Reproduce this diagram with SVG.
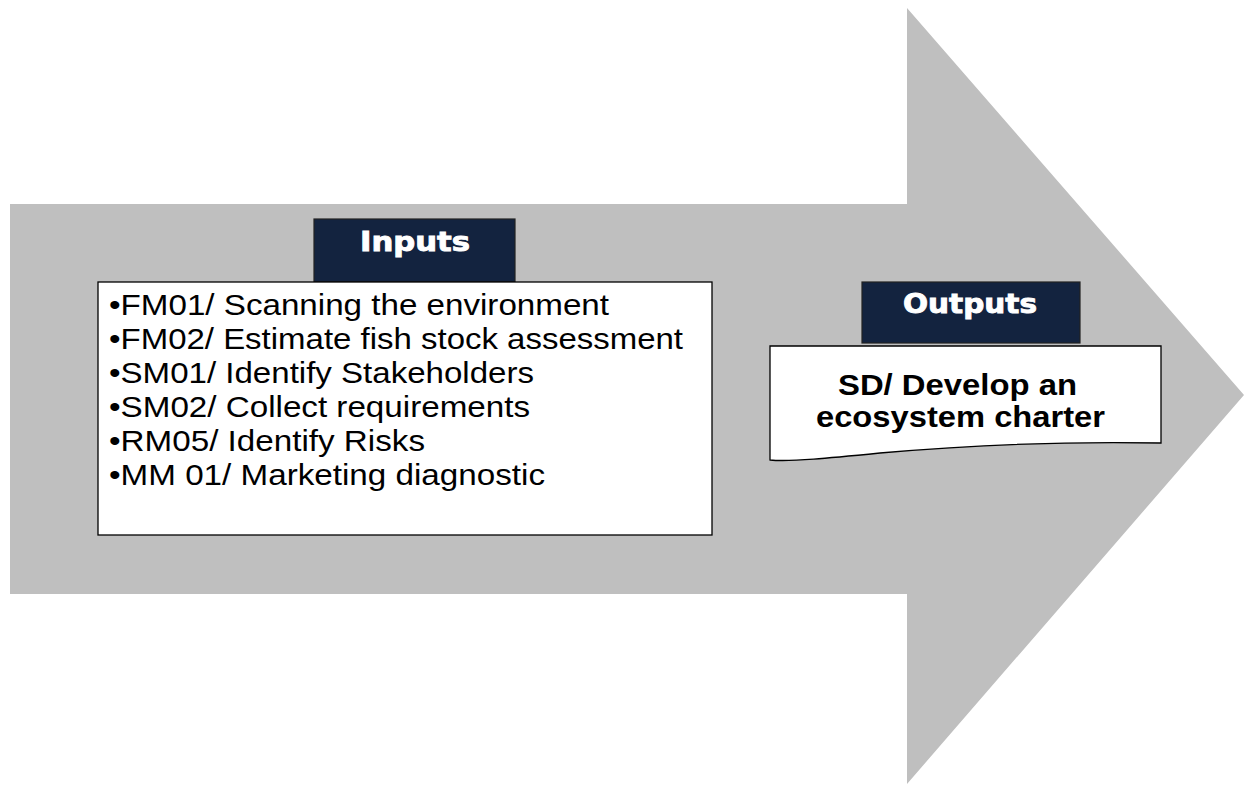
<svg xmlns="http://www.w3.org/2000/svg" width="1244" height="786" viewBox="0 0 1244 786">
<style>
.hdr{fill:#13233f;stroke:#222;stroke-width:1.2}
.box{fill:#fff;stroke:#000;stroke-width:1.3}
.htxt{font-family:"DejaVu Sans",sans-serif;font-weight:bold;font-size:27px;fill:#fff;stroke:#fff;stroke-width:0.9}
.itxt{font-family:"Liberation Sans",Arial,sans-serif;font-size:30px;fill:#000}
.otxt{font-family:"Liberation Sans",Arial,sans-serif;font-weight:bold;font-size:30px;fill:#000}
</style>
<rect width="1244" height="786" fill="#fff"/>
<polygon id="arrow" points="10,204 907,204 907,8 1244,395 907,784 907,594 10,594" fill="#bfbfbf"/>
<g id="inputs">
<rect class="hdr" x="314" y="219" width="201" height="63"/>
<text class="htxt" x="360" y="251" textLength="110" lengthAdjust="spacingAndGlyphs">Inputs</text>
<rect class="box" x="98" y="282" width="614" height="253"/>
<text class="itxt" x="109" y="315" textLength="500" lengthAdjust="spacingAndGlyphs">•FM01/ Scanning the environment</text>
<text class="itxt" x="109" y="349" textLength="574" lengthAdjust="spacingAndGlyphs">•FM02/ Estimate fish stock assessment</text>
<text class="itxt" x="109" y="383" textLength="425" lengthAdjust="spacingAndGlyphs">•SM01/ Identify Stakeholders</text>
<text class="itxt" x="109" y="417" textLength="421" lengthAdjust="spacingAndGlyphs">•SM02/ Collect requirements</text>
<text class="itxt" x="109" y="451" textLength="316" lengthAdjust="spacingAndGlyphs">•RM05/ Identify Risks</text>
<text class="itxt" x="109" y="485" textLength="436" lengthAdjust="spacingAndGlyphs">•MM 01/ Marketing diagnostic</text>
</g>
<g id="outputs">
<rect class="hdr" x="862" y="282" width="218" height="61"/>
<text class="htxt" x="903" y="313" textLength="134" lengthAdjust="spacingAndGlyphs">Outputs</text>
<path class="box" d="M770,346 H1161 V443 C1060,441 960,446 880,453 C830,458 790,462 770,460 Z"/>
<text class="otxt" x="838" y="395" textLength="239" lengthAdjust="spacingAndGlyphs">SD/ Develop an</text>
<text class="otxt" x="816" y="427" textLength="289" lengthAdjust="spacingAndGlyphs">ecosystem charter</text>
</g>
<g id="connectors"/>
</svg>
